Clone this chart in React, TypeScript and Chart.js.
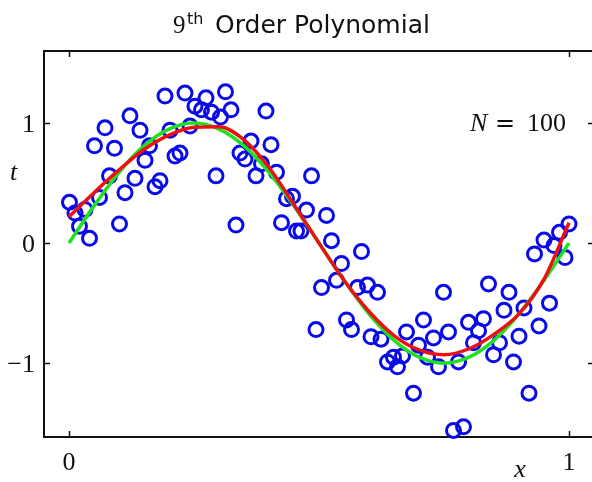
import React, { useEffect, useRef } from "react";
import { Chart, registerables } from "chart.js";

Chart.register(...registerables);

// Observations (x, t)
const pointX = [
  0.001, 0.012, 0.032, 0.021, 0.041, 0.061, 0.051, 0.072, 0.091, 0.081,
  0.112, 0.101, 0.122, 0.142, 0.132, 0.161, 0.152, 0.172, 0.182, 0.192,
  0.202, 0.212, 0.222, 0.232, 0.242, 0.252, 0.265, 0.274, 0.285, 0.294,
  0.303, 0.313, 0.324, 0.334, 0.342, 0.352, 0.364, 0.374, 0.385, 0.394,
  0.404, 0.415, 0.425, 0.435, 0.447, 0.455, 0.464, 0.475, 0.485, 0.515,
  0.525,
  0.585, 0.545, 0.535, 0.505, 0.494, 0.555, 0.565, 0.577, 0.597, 0.617,
  0.604, 0.624, 0.637, 0.649, 0.657, 0.667, 0.675, 0.689, 0.699, 0.709,
  0.717, 0.729, 0.739, 0.749, 0.759, 0.769, 0.789, 0.779, 0.799, 0.809,
  0.819, 0.829, 0.839, 0.849, 0.861, 0.870, 0.880, 0.889, 0.900, 0.910,
  0.920, 0.931, 0.940, 0.950, 0.961, 0.970, 0.981, 0.992, 1.0,
];
const pointT = [
  0.34, 0.25, 0.28, 0.14, 0.04, 0.38, 0.81, 0.96, 0.79, 0.56,
  0.42, 0.16, 1.06, 0.94, 0.54, 0.81, 0.69, 0.47, 0.52, 1.225,
  0.94, 0.725, 0.75, 1.25, 0.975, 1.14, 1.11, 1.21, 1.09, 0.56,
  1.05, 1.26, 1.11, 0.15, 0.75, 0.7, 0.85, 0.56, 0.66, 1.1,
  0.82, 0.59, 0.17, 0.37, 0.39, 0.1, 0.1, 0.275, 0.56, 0.23,
  0.02,
  -0.07, -0.17, -0.31, -0.37, -0.72, -0.64, -0.72, -0.37, -0.35, -0.41,
  -0.78, -0.8, -0.99, -0.95, -1.03, -0.94, -0.74, -1.25, -0.85, -0.64,
  -0.95, -0.79, -1.03, -0.41, -0.74, -1.56, -1.53, -0.99, -0.66, -0.83,
  -0.73, -0.63, -0.34, -0.93, -0.83, -0.56, -0.41, -0.99, -0.775, -0.54,
  -1.25, -0.09, -0.69, 0.025, -0.5, -0.02, 0.09, -0.12, 0.16,
];

// Curves sampled along x
const curveX = [
  0, 0.05, 0.1, 0.15, 0.2, 0.25, 0.3, 0.35, 0.4, 0.45, 0.5,
  0.55, 0.6, 0.65, 0.7, 0.75, 0.8, 0.85, 0.9, 0.95, 1.0,
];
const trueCurve = [
  0, 0.31, 0.59, 0.81, 0.95, 1.0, 0.95, 0.81, 0.59, 0.31, 0,
  -0.31, -0.59, -0.81, -0.95, -1.0, -0.95, -0.81, -0.59, -0.31, 0,
];
const fitCurve = [
  0.22, 0.42, 0.61, 0.78, 0.9, 0.965, 0.97, 0.86, 0.63, 0.32, 0.0,
  -0.31, -0.57, -0.77, -0.89, -0.93, -0.88, -0.76, -0.59, -0.3, 0.17,
];

const xTicks = [0, 1];
const xTickLabels = ["0", "1"];
const yTicks = [-1, 0, 1];
const yTickLabels = ["\u22121", "0", "1"];

const titleNum = "9";
const titleSup = "th";
const titleRest = "Order Polynomial";
const xLabel = "x";
const yLabel = "t";
const annotN = "N";
const annotEq = "=";
const annotVal = "100";

const SERIF = '"Liberation Serif", "DejaVu Serif", serif';
const SANS = '"DejaVu Sans", sans-serif';

const framePlugin = {
  id: "frame",
  beforeDatasetsDraw(chart: any) {
    const { ctx, chartArea } = chart;
    const xs = chart.scales.x;
    const ys = chart.scales.y;
    ctx.save();
    ctx.strokeStyle = "#111";
    ctx.lineWidth = 2;
    ctx.beginPath();
    ctx.moveTo(chartArea.right, chartArea.top);
    ctx.lineTo(chartArea.left, chartArea.top);
    ctx.lineTo(chartArea.left, chartArea.bottom);
    ctx.lineTo(chartArea.right, chartArea.bottom);
    ctx.stroke();
    ctx.lineWidth = 1.5;
    const tl = 6;
    ctx.beginPath();
    xTicks.forEach((v) => {
      const px = Math.round(xs.getPixelForValue(v)) + 0.5;
      ctx.moveTo(px, chartArea.bottom);
      ctx.lineTo(px, chartArea.bottom - tl);
      ctx.moveTo(px, chartArea.top);
      ctx.lineTo(px, chartArea.top + tl);
    });
    yTicks.forEach((v) => {
      const py = Math.round(ys.getPixelForValue(v)) + 0.5;
      ctx.moveTo(chartArea.left, py);
      ctx.lineTo(chartArea.left + tl, py);
      ctx.moveTo(chartArea.right, py);
      ctx.lineTo(chartArea.right - tl, py);
    });
    ctx.stroke();
    ctx.restore();
  },
  afterDraw(chart: any) {
    const { ctx, chartArea } = chart;
    const xs = chart.scales.x;
    const ys = chart.scales.y;
    ctx.save();
    ctx.fillStyle = "#111";
    ctx.textBaseline = "alphabetic";

    // Title
    ctx.textAlign = "left";
    ctx.font = `25px ${SERIF}`;
    ctx.fillText(titleNum, 173, 33);
    ctx.font = `16px ${SANS}`;
    ctx.fillText(titleSup, 187, 24);
    ctx.font = `25px ${SANS}`;
    ctx.fillText(titleRest, 215, 33);

    // tick labels
    ctx.font = `26px ${SERIF}`;
    ctx.textAlign = "center";
    xTicks.forEach((v, i) => {
      ctx.fillText(xTickLabels[i], xs.getPixelForValue(v), chartArea.bottom + 33);
    });
    ctx.textAlign = "right";
    yTicks.forEach((v, i) => {
      ctx.fillText(yTickLabels[i], 35, ys.getPixelForValue(v) + 9);
    });

    // axis labels
    ctx.font = `italic 26px ${SERIF}`;
    ctx.textAlign = "center";
    ctx.fillText(xLabel, 520, 477);
    ctx.textAlign = "left";
    ctx.fillText(yLabel, 10, 180);

    // N = 100
    ctx.font = `italic 26px ${SERIF}`;
    ctx.fillText(annotN, 470, 131);
    ctx.font = `24px "DejaVu Serif", serif`;
    ctx.fillText(annotEq, 495, 131);
    ctx.font = `26px ${SERIF}`;
    ctx.fillText(annotVal, 527, 131);
    ctx.restore();
  },
};

export default function App() {
  const ref = useRef<HTMLCanvasElement | null>(null);
  useEffect(() => {
    if (!ref.current) return;
    const chart = new Chart(ref.current, {
      type: "scatter",
      data: {
        datasets: [
          {
            type: "line",
            label: "fit",
            data: curveX.map((x, i) => ({ x, y: fitCurve[i] })),
            borderColor: "#ee1010",
            borderWidth: 3.5,
            pointRadius: 0,
            cubicInterpolationMode: "monotone",
            fill: false,
            order: 1,
            clip: false,
          } as any,
          {
            type: "line",
            label: "true",
            data: curveX.map((x, i) => ({ x, y: trueCurve[i] })),
            borderColor: "#1ee01e",
            borderWidth: 3.5,
            pointRadius: 0,
            cubicInterpolationMode: "monotone",
            fill: false,
            order: 2,
            clip: false,
          } as any,
          {
            label: "data",
            data: pointX.map((x, i) => ({ x, y: pointT[i] })),
            pointRadius: 7,
            pointBorderWidth: 3,
            pointBorderColor: "#0a0ae8",
            pointBackgroundColor: "rgba(0,0,0,0)",
            showLine: false,
            order: 3,
            clip: false,
          } as any,
        ],
      },
      options: {
        animation: false,
        responsive: false,
        events: [],
        layout: { autoPadding: false, padding: { left: 44, top: 51, right: 6, bottom: 45 } },
        plugins: { legend: { display: false }, tooltip: { enabled: false }, title: { display: false } },
        scales: {
          x: { type: "linear", min: -0.05, max: 1.05, display: false },
          y: { type: "linear", min: -1.615, max: 1.6, display: false },
        },
      },
      plugins: [framePlugin],
    });
    return () => chart.destroy();
  }, []);
  return (
    <div style={{ position: "fixed", left: 0, top: 0, width: 592, height: 482, overflow: "hidden", background: "#fff" }}>
      <canvas ref={ref} width={600} height={482} style={{ display: "block" }} />
    </div>
  );
}
